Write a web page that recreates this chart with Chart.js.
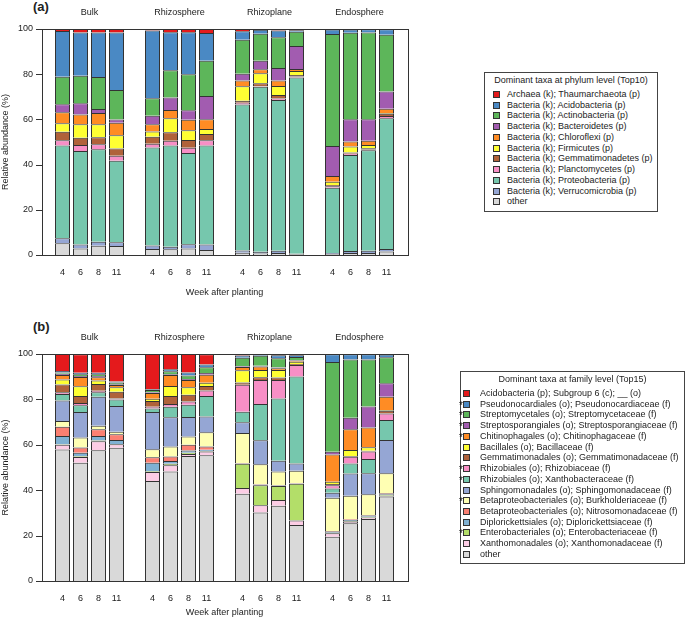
<!DOCTYPE html>
<html>
<head>
<meta charset="utf-8">
<script src="https://cdn.jsdelivr.net/npm/chart.js@4.4.1/dist/chart.umd.min.js"></script>
<style>
  body { margin: 0; width: 685px; height: 625px; background: #fff; position: relative; overflow: hidden;
         font-family: "Liberation Sans", Arial, sans-serif; color: #222; }
  canvas { position: absolute; left: 0; }
  .tag { position: absolute; font-weight: bold; font-size: 13px; line-height: 14px; }
  .legend { position: absolute; border: 1px solid #444; box-sizing: border-box; font-size: 9px; }
  .legend div { position: absolute; white-space: nowrap; line-height: 11px; height: 11px; }
  .legend .title { left: 0; right: 0; text-align: center; }
  .legend .sw { width: 7px; height: 7px; border: 1px solid #333; box-sizing: border-box; }
  .legend .star { font-size: 10px; color: #111; z-index: 2; }
</style>
</head>
<body>
<div class="tag" style="left:33px; top:0px;">(a)</div>
<canvas id="phylum" width="470" height="310" style="top:0px;"></canvas>
<div id="phylumLegend" class="legend" style="left:484px; top:72px; width:174px; height:140px;"></div>

<div class="tag" style="left:33px; top:320px;">(b)</div>
<canvas id="family" width="470" height="300" style="top:325px;"></canvas>
<div id="familyLegend" class="legend" style="left:460px; top:371px; width:225px; height:193px;"></div>

<script>
// Samples: 4 compartments x 4 sampling weeks
var compartments = ['Bulk', 'Rhizosphere', 'Rhizoplane', 'Endosphere'];
var weeks = ['4', '6', '8', '11'];
var yTicks = [0, 20, 40, 60, 80, 100];

// (a) phylum level, values per sample: Bulk 4,6,8,11 | Rhizosphere | Rhizoplane | Endosphere
var phylumNames = ['Archaea (k); Thaumarchaeota (p)', 'Bacteria (k); Acidobacteria (p)', 'Bacteria (k); Actinobacteria (p)',
  'Bacteria (k); Bacteroidetes (p)', 'Bacteria (k); Chloroflexi (p)', 'Bacteria (k); Firmicutes (p)',
  'Bacteria (k); Gemmatimonadetes (p)', 'Bacteria (k); Planctomycetes (p)', 'Bacteria (k); Proteobacteria (p)',
  'Bacteria (k); Verrucomicrobia (p)', 'other'];
var thaumarchaeota = [0.9, 1.5, 1.5, 1.5, 0.7, 1.5, 1.5, 1.8, 1.0, 0.4, 0.7, 0.5, 0.2, 0.2, 0.1, 0.1];
var acidobacteria = [20.2, 19.2, 19.7, 25.5, 29.9, 16.8, 18.6, 12.2, 3.8, 1.8, 2.9, 0.7, 2.0, 1.5, 1.5, 2.4];
var actinobacteria = [12.2, 12.2, 14.2, 13.0, 7.8, 12.1, 15.9, 15.6, 15.0, 11.9, 13.7, 6.3, 49.6, 38.2, 38.3, 25.1];
var bacteroidetes = [3.5, 4.9, 1.8, 1.5, 3.7, 5.5, 4.3, 10.3, 3.0, 3.8, 5.5, 10.2, 13.2, 9.9, 9.6, 7.7];
var chloroflexi = [4.9, 4.4, 4.9, 5.5, 3.2, 3.7, 4.6, 4.4, 2.5, 1.8, 2.4, 0.9, 2.6, 2.2, 1.8, 1.9];
var firmicutes = [3.8, 5.9, 5.8, 5.9, 2.4, 6.2, 4.3, 2.2, 6.5, 4.4, 4.0, 1.8, 1.4, 2.7, 1.5, 0.3];
var gemmatimonadetes = [3.7, 3.2, 3.1, 3.2, 3.1, 3.8, 3.4, 2.7, 0.8, 1.3, 1.5, 0.6, 0.6, 0.5, 0.5, 1.0];
var planctomycetes = [2.4, 2.7, 2.2, 2.2, 1.6, 2.1, 2.4, 2.4, 0.8, 0.3, 0.7, 0.5, 0.6, 0.5, 0.4, 1.0];
var proteobacteria = [41.0, 41.3, 40.9, 36.1, 43.4, 44.7, 40.3, 43.7, 64.6, 73.0, 66.7, 77.9, 28.9, 42.5, 44.4, 57.8];
var verrucomicrobia = [2.2, 1.8, 1.8, 1.6, 1.5, 1.2, 1.9, 2.5, 1.0, 0.7, 1.0, 0.3, 0.5, 0.9, 1.0, 1.2];
var phylumOther = [5.2, 2.9, 4.1, 4.0, 2.7, 2.5, 2.9, 2.2, 1.0, 0.7, 0.9, 0.3, 0.4, 0.9, 0.9, 1.5];
var phylumSeries = [thaumarchaeota, acidobacteria, actinobacteria, bacteroidetes, chloroflexi, firmicutes,
  gemmatimonadetes, planctomycetes, proteobacteria, verrucomicrobia, phylumOther];
var phylumColors = ['#e41a1c', '#4a89c4', '#5db65a', '#a25cb0', '#ff8c24', '#ffff33', '#b0623a', '#f78fc6',
  '#76c7ad', '#95a6d4', '#d9d9d9'];

// (b) family level
var familyNames = ['Acidobacteria (p); Subgroup 6 (c); __ (o)', 'Pseudonocardiales (o); Pseudonocardiaceae (f)',
  'Streptomycetales (o); Streptomycetaceae (f)', 'Streptosporangiales (o); Streptosporangiaceae (f)',
  'Chitinophagales (o); Chitinophagaceae (f)', 'Bacillales (o); Bacillaceae (f)',
  'Gemmatimonadales (o); Gemmatimonadaceae (f)', 'Rhizobiales (o); Rhizobiaceae (f)',
  'Rhizobiales (o); Xanthobacteraceae (f)', 'Sphingomonadales (o); Sphingomonadaceae (f)',
  'Betaproteobacteriales (o); Burkholderiaceae (f)', 'Betaproteobacteriales (o); Nitrosomonadaceae (f)',
  'Diplorickettsiales (o); Diplorickettsiaceae (f)', 'Enterobacteriales (o); Enterobacteriaceae (f)',
  'Xanthomonadales (o); Xanthomonadaceae (f)', 'other'];
var familyStarred = [false, true, true, true, true, false, false, true, true, false, true, false, false, true, false, false];
var subgroup6 = [7.5, 8.2, 8.3, 12.2, 15.5, 6.7, 8.2, 4.5, 0.9, 0.4, 0.6, 0.4, 0.1, 0.1, 0.1, 0.2];
var pseudonocardiaceae = [0.6, 0.6, 0.6, 0.5, 0.4, 0.9, 1.3, 1.2, 1.0, 0.5, 1.3, 0.8, 3.4, 2.3, 2.3, 1.2];
var streptomycetaceae = [0.6, 0.8, 0.8, 0.7, 0.9, 1.3, 1.5, 2.6, 3.7, 4.4, 4.0, 1.3, 39.6, 25.7, 20.7, 11.5];
var streptosporangiaceae = [0.6, 0.4, 0.5, 0.4, 0.4, 0.4, 0.4, 0.7, 0.3, 0.3, 0.4, 0.3, 1.2, 5.1, 9.3, 5.9];
var chitinophagaceae = [1.9, 4.1, 1.5, 1.0, 2.5, 4.8, 3.2, 3.6, 1.5, 1.5, 0.8, 0.5, 12.0, 9.1, 8.7, 5.9];
var bacillaceae = [2.2, 4.3, 1.5, 1.9, 1.0, 4.4, 3.4, 1.4, 5.3, 3.2, 3.2, 1.0, 1.0, 2.6, 1.5, 0.3];
var gemmatimonadaceae = [3.5, 3.1, 3.0, 3.0, 2.5, 3.5, 2.9, 2.0, 1.0, 1.2, 1.2, 0.5, 0.5, 0.4, 0.3, 1.2];
var rhizobiaceae = [0.7, 1.0, 0.6, 0.4, 0.8, 1.2, 1.5, 2.4, 11.9, 10.6, 8.1, 5.0, 1.5, 2.9, 3.4, 2.9];
var xanthobacteraceae = [2.9, 2.9, 2.0, 2.9, 1.5, 4.7, 5.4, 9.0, 4.7, 16.0, 27.4, 38.3, 1.8, 4.4, 6.2, 8.8];
var sphingomonadaceae = [9.0, 11.3, 12.8, 11.3, 16.5, 12.9, 8.5, 7.0, 4.7, 10.6, 4.8, 3.2, 2.2, 9.8, 9.3, 14.6];
var burkholderiaceae = [2.5, 4.4, 1.5, 1.2, 3.5, 4.4, 3.7, 6.2, 13.2, 8.8, 5.9, 5.4, 14.7, 10.4, 9.1, 8.8];
var nitrosomonadaceae = [4.1, 2.3, 3.0, 2.5, 2.4, 1.9, 2.5, 1.5, 0.2, 0.2, 0.2, 0.2, 0.3, 0.3, 0.3, 0.5];
var diplorickettsiaceae = [3.7, 1.5, 2.0, 1.7, 3.7, 1.3, 1.0, 0.5, 0.2, 0.2, 0.2, 0.2, 0.4, 0.5, 0.5, 0.4];
var enterobacteriaceae = [0.2, 0.4, 0.3, 0.2, 0.4, 0.6, 0.5, 0.3, 10.6, 8.8, 6.2, 16.2, 0.3, 0.3, 0.3, 0.3];
var xanthomonadaceae = [2.1, 2.5, 4.0, 1.5, 4.0, 2.8, 0.9, 1.6, 2.6, 3.2, 2.5, 1.9, 1.5, 0.7, 0.7, 0.3];
var familyOther = [57.9, 52.1, 57.6, 58.7, 44.0, 48.2, 55.1, 55.4, 38.4, 30.2, 33.2, 24.7, 19.5, 25.4, 27.3, 37.2];
var familySeries = [subgroup6, pseudonocardiaceae, streptomycetaceae, streptosporangiaceae, chitinophagaceae,
  bacillaceae, gemmatimonadaceae, rhizobiaceae, xanthobacteraceae, sphingomonadaceae, burkholderiaceae,
  nitrosomonadaceae, diplorickettsiaceae, enterobacteriaceae, xanthomonadaceae, familyOther];
var familyColors = ['#e41a1c', '#4a89c4', '#5db65a', '#a25cb0', '#ff8c24', '#ffff33', '#b0623a', '#f78fc6',
  '#76c7ad', '#95a6d4', '#ffffb3', '#fb8072', '#80b1d3', '#b3de69', '#fccde5', '#d9d9d9'];

var FONT = '"Liberation Sans", Arial, sans-serif';
var TEXT = '#222';
var FRAME_PAD = 12;

Chart.defaults.font.family = FONT;
Chart.defaults.font.size = 9;
Chart.defaults.color = TEXT;

// one empty slot between compartments
var slotLabels = [];
compartments.forEach(function (c, g) {
  weeks.forEach(function (w) { slotLabels.push(w); });
  if (g < compartments.length - 1) slotLabels.push('');
});

function toSlots(vals) {
  var out = [];
  compartments.forEach(function (c, g) {
    weeks.forEach(function (w, i) { out.push(vals[g * weeks.length + i]); });
    if (g < compartments.length - 1) out.push(null);
  });
  return out;
}

// box around the plot, y tick marks on the box, compartment names on top
var framePlugin = {
  id: 'frame',
  afterDraw: function (chart) {
    var ctx = chart.ctx, a = chart.chartArea, x = chart.scales.x, y = chart.scales.y;
    var left = Math.round(a.left - FRAME_PAD), right = Math.round(a.right + FRAME_PAD);
    ctx.save();
    ctx.strokeStyle = '#333';
    ctx.lineWidth = 1;
    ctx.strokeRect(left + 0.5, Math.round(a.top) + 0.5, right - left, Math.round(a.bottom - a.top));
    yTicks.forEach(function (v) {
      var py = Math.round(y.getPixelForValue(v)) + 0.5;
      ctx.beginPath();
      ctx.moveTo(left - 6, py);
      ctx.lineTo(left, py);
      ctx.stroke();
    });
    ctx.fillStyle = TEXT;
    ctx.font = '9px ' + FONT;
    ctx.textAlign = 'center';
    ctx.textBaseline = 'middle';
    compartments.forEach(function (c, g) {
      var first = g * (weeks.length + 1), last = first + weeks.length - 1;
      var cx = (x.getPixelForValue(first) + x.getPixelForValue(last)) / 2;
      ctx.fillText(c, cx, a.top - 16);
    });
    ctx.restore();
  }
};

function drawPanel(id, series, colors, names, bottomPad, titlePad) {
  var datasets = [];
  // first legend entry sits on top of the stack
  for (var i = series.length - 1; i >= 0; i--) {
    datasets.push({
      label: names[i],
      data: toSlots(series[i]),
      backgroundColor: colors[i],
      borderColor: '#333',
      borderWidth: 1,
      categoryPercentage: 1,
      barPercentage: 15 / 18
    });
  }
  return new Chart(document.getElementById(id).getContext('2d'), {
    type: 'bar',
    data: { labels: slotLabels, datasets: datasets },
    options: {
      responsive: false,
      animation: false,
      layout: { padding: { top: 29, right: 74.5, bottom: bottomPad, left: 0 } },
      plugins: { legend: { display: false }, tooltip: { enabled: false } },
      scales: {
        x: {
          stacked: true,
          grid: { display: false, drawTicks: false },
          border: { display: false },
          ticks: { autoSkip: false, maxRotation: 0, padding: 12 },
          title: { display: true, text: 'Week after planting', padding: { top: 0, bottom: titlePad } },
          afterFit: function (s) { s.height = 44; }
        },
        y: {
          stacked: true,
          min: 0,
          max: 100,
          grid: { display: false, drawTicks: false },
          border: { display: false },
          afterBuildTicks: function (s) { s.ticks = yTicks.map(function (v) { return { value: v }; }); },
          ticks: { padding: 20.5 },
          title: { display: true, text: 'Relative abundance (%)', padding: { top: 0, bottom: 0 } },
          afterFit: function (s) { s.width = 53.5; }
        }
      }
    },
    plugins: [framePlugin]
  });
}

function buildLegend(id, title, names, colors, starred, swLeft, textLeft) {
  var box = document.getElementById(id);
  var t = document.createElement('div');
  t.className = 'title';
  t.style.top = '2px';
  t.textContent = title;
  box.appendChild(t);
  names.forEach(function (n, i) {
    var cy = 22 + i * 10.73;
    var sw = document.createElement('div');
    sw.className = 'sw';
    sw.style.left = swLeft + 'px';
    sw.style.top = (cy - 4) + 'px';
    sw.style.background = colors[i];
    box.appendChild(sw);
    if (starred && starred[i]) {
      var st = document.createElement('div');
      st.className = 'star';
      st.style.left = (swLeft - 4) + 'px';
      st.style.top = (cy - 5) + 'px';
      st.textContent = '*';
      box.appendChild(st);
    }
    var lb = document.createElement('div');
    lb.style.left = textLeft + 'px';
    lb.style.top = (cy - 6) + 'px';
    lb.textContent = n;
    box.appendChild(lb);
  });
}

drawPanel('phylum', phylumSeries, phylumColors, phylumNames, 11, 0.6);
drawPanel('family', familySeries, familyColors, familyNames, 0, 6.6);
buildLegend('phylumLegend', 'Dominant taxa at phylum level (Top10)', phylumNames, phylumColors, null, 7.5, 22);
buildLegend('familyLegend', 'Dominant taxa at family level (Top15)', familyNames, familyColors, familyStarred, 2, 19);
</script>
</body>
</html>
